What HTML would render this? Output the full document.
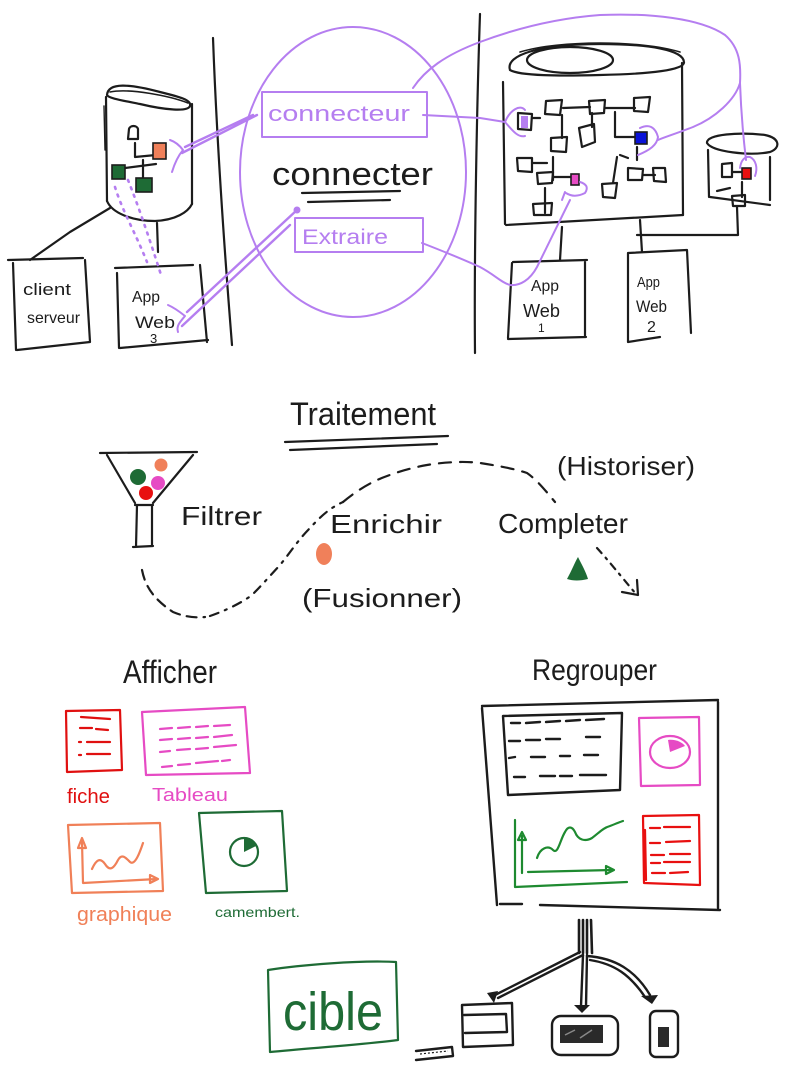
<!DOCTYPE html>
<html><head><meta charset="utf-8"><style>
html,body{margin:0;padding:0;background:#fff;}
svg{display:block;}
text{font-family:"Liberation Sans",sans-serif;}
</style></head><body>
<svg width="800" height="1070" viewBox="0 0 800 1070" xmlns="http://www.w3.org/2000/svg">
<rect width="800" height="1070" fill="#fff"/>

<!-- ============ TOP SECTION : black strokes ============ -->
<g fill="none" stroke="#1c1c1c" stroke-width="2.2" stroke-linecap="round" stroke-linejoin="round">
  <!-- separators -->
  <path d="M213,38 C216,120 222,220 232,345"/>
  <path d="M480,14 C477,100 474,250 475,353"/>

  <!-- left cylinder -->
  <path d="M107,95 C108,82 130,84 160,92 C180,97 192,100 190,106 C188,112 165,110 140,104 C120,100 108,98 107,95"/>
  <path d="M110,92 C130,88 170,96 188,103" stroke-width="1.6"/>
  <path d="M106,97 L107,201"/>
  <path d="M104,106 L105,150" stroke-width="1.4"/>
  <path d="M192,104 L192,204"/>
  <path d="M107,201 C112,213 132,221 155,221 C176,220 188,212 192,204"/>
  <!-- inner nodes -->
  <path d="M128,139 L129,129 C130,125 137,125 138,129 L138,139 Z"/>
  <path d="M135,143 L135,157 L156,155"/>
  <path d="M125,168 L156,164 M143,160 L143,178"/>
  <!-- to boxes -->
  <path d="M110,208 L70,232 L30,260"/>
  <path d="M157,223 L158,252"/>

  <!-- client serveur box -->
  <path d="M8,260 L83,258 M13,263 L16,350 M85,260 L90,342 M17,350 L90,342"/>
  <!-- App web 3 box -->
  <path d="M115,268 L193,265 M117,273 L119,348 M200,265 L207,342 M120,348 L208,340"/>

  <!-- big cylinder -->
  <path d="M510,70 C505,55 540,44 600,44 C650,44 683,50 684,62 C685,70 650,74 600,75 C560,76 520,76 510,70"/>
  <ellipse cx="570" cy="60" rx="43" ry="13"/>
  <path d="M520,52 C560,40 640,40 680,52" stroke-width="1.6"/>
  <path d="M503,82 L505,224"/>
  <path d="M682,63 L683,215"/>
  <path d="M506,225 L683,215"/>
  <!-- interior nodes -->
  <path d="M518,113 L532,114 L531,130 L518,129 Z"/>
  <path d="M532,118 L540,118"/>
  <path d="M546,101 L562,100 L560,115 L545,114 Z"/>
  <path d="M563,108 L590,107"/>
  <path d="M589,101 L605,100 L604,113 L590,114 Z"/>
  <path d="M605,108 L635,108"/>
  <path d="M634,98 L650,97 L648,112 L634,111 Z"/>
  <path d="M562,115 L562,138"/>
  <path d="M551,138 L567,137 L566,152 L551,151 Z"/>
  <path d="M592,113 L592,127"/>
  <path d="M579,128 L594,124 L595,142 L582,147 Z"/>
  <path d="M615,112 L615,137 L634,137"/>
  <path d="M637,147 L637,160"/>
  <path d="M620,155 L628,158 M617,157 L613,183"/>
  <path d="M628,168 L643,169 L642,180 L628,180 Z"/>
  <path d="M643,175 L655,175"/>
  <path d="M653,168 L665,168 L666,182 L654,181 Z"/>
  <path d="M602,184 L617,183 L615,198 L603,197 Z"/>
  <path d="M517,158 L532,158 L532,172 L518,171 Z"/>
  <path d="M532,163 L547,163"/>
  <path d="M553,157 L553,180"/>
  <path d="M537,173 L553,172 L552,183 L538,184 Z"/>
  <path d="M553,177 L572,177"/>
  <path d="M545,188 L545,213"/>
  <path d="M533,204 L552,203 L551,215 L534,215 Z"/>
  <!-- small cylinder -->
  <path d="M707,143 C706,134 740,132 765,135 C780,138 781,148 770,152 C750,156 712,152 707,143"/>
  <path d="M708,150 L709,197 M770,157 L770,200 M710,197 L770,205"/>
  <path d="M722,164 L732,163 L732,177 L722,177 Z"/>
  <path d="M732,172 L742,172"/>
  <path d="M717,191 L730,188 M742,182 L742,197"/>
  <path d="M732,196 L745,195 L745,206 L733,206 Z"/>
  <!-- connectors to app web 1 / 2 -->
  <path d="M562,227 L560,260"/>
  <path d="M640,220 L642,252 M637,235 L738,235 L737,207"/>
  <!-- App Web 1 box -->
  <path d="M513,262 L587,260 M512,263 L508,338 M585,262 L585,337 M508,339 L586,337"/>
  <!-- App Web 2 box -->
  <path d="M628,253 L687,250 M628,253 L628,342 M687,250 L691,333 M628,342 L660,337"/>
  <!-- connecter underline -->
  <path d="M302,193 L400,191 M308,202 L390,200"/>
</g>

<!-- fills top -->
<rect x="153" y="143" width="13" height="16" fill="#f0805a" stroke="#1c1c1c" stroke-width="1.6"/>
<rect x="112" y="165" width="13" height="14" fill="#1e6b35" stroke="#1c1c1c" stroke-width="1.6"/>
<rect x="136" y="178" width="16" height="14" fill="#1e6b35" stroke="#1c1c1c" stroke-width="1.6"/>
<rect x="521" y="116" width="7" height="12" fill="#b57ef0"/>
<rect x="635" y="132" width="12" height="12" fill="#0a12d8" stroke="#1c1c1c" stroke-width="1.6"/>
<rect x="571" y="174" width="8" height="11" fill="#e64bc4" stroke="#1c1c1c" stroke-width="1.6"/>
<rect x="742" y="168" width="9" height="11" fill="#e81010" stroke="#1c1c1c" stroke-width="1.6"/>

<!-- purple strokes -->
<g fill="none" stroke="#b57ef0" stroke-width="2" stroke-linecap="round" stroke-linejoin="round">
  <ellipse cx="353" cy="172" rx="113" ry="145"/>
  <rect x="262" y="92" width="165" height="45"/>
  <rect x="295" y="218" width="128" height="34"/>
  <!-- bracket near orange + line -->
  <path d="M170,140 C176,142 180,146 183,150 C178,156 175,162 172,172"/>
  <path d="M182,153 L257,115 M185,147 L253,115" stroke-width="2.4"/>
  <!-- bracket near app web 3 + line -->
  <path d="M168,305 C175,308 180,312 185,316 C180,322 176,326 178,332"/>
  <path d="M187,312 L297,210 M182,326 L290,225" stroke-width="2.4"/>
  <circle cx="297" cy="210" r="2.5" fill="#b57ef0"/>
  <!-- dotted lines -->
  <path d="M115,187 C122,210 135,232 147,262" stroke-dasharray="2 6" stroke-width="2.6"/>
  <path d="M128,180 C138,205 150,240 162,278" stroke-dasharray="2 6" stroke-width="2.6"/>
  <!-- connecteur to big cylinder -->
  <path d="M423,115 L480,118 L505,122"/>
  <path d="M505,122 C510,110 520,104 525,110 M505,122 C512,130 518,138 525,136"/>
  <!-- long curve top -->
  <path d="M413,88 C425,70 445,55 480,42 C520,27 560,18 600,15 C650,13 700,18 725,35 C740,48 741,65 740,83 C741,110 743,135 746,160"/>
  <path d="M740,83 C735,100 715,118 693,127 C675,134 665,137 658,140"/>
  <!-- bracket blue -->
  <path d="M640,128 C648,124 655,126 658,137 C657,145 650,150 638,155"/>
  <!-- bracket red -->
  <path d="M740,168 C741,160 745,156 750,157 C756,160 758,168 755,176"/>
  <!-- extraire to app web 1 then up to pink -->
  <path d="M422,243 C440,250 460,258 480,267 C495,275 502,283 510,285 C520,286 530,280 537,267 C548,245 560,220 570,200"/>
  <path d="M580,182 C586,184 589,187 585,193 C579,196 572,197 566,193 M565,192 L562,200"/>
</g>

<!-- text top -->
<g fill="#1c1c1c">
  <text x="23" y="295" font-size="17" textLength="48" lengthAdjust="spacingAndGlyphs">client</text>
  <text x="27" y="323" font-size="16" textLength="53" lengthAdjust="spacingAndGlyphs">serveur</text>
  <text x="132" y="302" font-size="16" textLength="28" lengthAdjust="spacingAndGlyphs">App</text>
  <text x="135" y="328" font-size="17" textLength="40" lengthAdjust="spacingAndGlyphs">Web</text>
  <text x="150" y="343" font-size="13">3</text>
  <text x="272" y="185" font-size="32" textLength="161" lengthAdjust="spacingAndGlyphs">connecter</text>
  <text x="531" y="291" font-size="16" textLength="28" lengthAdjust="spacingAndGlyphs">App</text>
  <text x="523" y="317" font-size="18" textLength="37" lengthAdjust="spacingAndGlyphs">Web</text>
  <text x="538" y="332" font-size="12">1</text>
  <text x="637" y="287" font-size="15" textLength="23" lengthAdjust="spacingAndGlyphs">App</text>
  <text x="636" y="312" font-size="17" textLength="31" lengthAdjust="spacingAndGlyphs">Web</text>
  <text x="647" y="332" font-size="16">2</text>
</g>
<g fill="#b57ef0">
  <text x="268" y="121" font-size="22" textLength="142" lengthAdjust="spacingAndGlyphs">connecteur</text>
  <text x="302" y="244" font-size="21" textLength="86" lengthAdjust="spacingAndGlyphs">Extraire</text>
</g>

<!-- ============ MIDDLE SECTION ============ -->
<g fill="none" stroke="#1c1c1c" stroke-width="2.2" stroke-linecap="round" stroke-linejoin="round">
  <path d="M285,442 L448,436 M290,450 L437,444"/>
  <!-- funnel -->
  <path d="M100,453 L197,452"/>
  <path d="M107,455 L135,503 M193,455 L153,503"/>
  <path d="M135,505 L153,505 M137,505 L136,547 M152,505 L152,545 M133,547 L153,546"/>
  <!-- dashed flow -->
  <path d="M142,570 C145,585 152,598 173,612 C185,617 195,618 205,617" stroke-dasharray="10 7"/>
  <path d="M210,616 C222,612 240,604 252,595 C262,585 268,578 280,565 C290,553 298,540 310,528 C322,515 330,508 343,502" stroke-dasharray="9 7 2 7"/>
  <path d="M343,502 C355,492 365,486 375,481 C390,474 410,468 427,465 C445,462 465,461 480,463 C500,466 515,469 527,473 C537,480 545,490 555,502" stroke-dasharray="12 9"/>
  <path d="M597,548 C608,560 620,575 636,594" stroke-dasharray="7 6 2 6"/>
  <path d="M622,592 L638,595 L637,580"/>
</g>
<circle cx="138" cy="477" r="8" fill="#1e6b35"/>
<circle cx="161" cy="465" r="6.5" fill="#f0805a"/>
<circle cx="158" cy="483" r="7" fill="#e64bc4"/>
<circle cx="146" cy="493" r="7" fill="#e81010"/>
<ellipse cx="324" cy="554" rx="8" ry="11" fill="#f0805a"/>
<path d="M567,579 C572,570 575,562 578,557 C582,565 586,572 588,579 C580,581 573,581 567,579 Z" fill="#1e6b35"/>

<g fill="#1c1c1c">
  <text x="290" y="425" font-size="32" textLength="146" lengthAdjust="spacingAndGlyphs">Traitement</text>
  <text x="181" y="525" font-size="26" textLength="81" lengthAdjust="spacingAndGlyphs">Filtrer</text>
  <text x="330" y="533" font-size="26" textLength="112" lengthAdjust="spacingAndGlyphs">Enrichir</text>
  <text x="498" y="533" font-size="28" textLength="130" lengthAdjust="spacingAndGlyphs">Completer</text>
  <text x="557" y="475" font-size="26" textLength="138" lengthAdjust="spacingAndGlyphs">(Historiser)</text>
  <text x="302" y="607" font-size="26" textLength="160" lengthAdjust="spacingAndGlyphs">(Fusionner)</text>
  <text x="123" y="683" font-size="32" textLength="94" lengthAdjust="spacingAndGlyphs">Afficher</text>
  <text x="532" y="680" font-size="30" textLength="125" lengthAdjust="spacingAndGlyphs">Regrouper</text>
</g>

<!-- ============ AFFICHER ============ -->
<g fill="none" stroke-width="2.2" stroke-linecap="round" stroke-linejoin="round">
  <!-- fiche -->
  <g stroke="#e01010">
    <path d="M66,711 L120,710 L122,770 L67,772 Z"/>
    <path d="M81,717 L110,719 M80,728 L92,728 M96,729 L108,730 M79,742 L81,742 M87,742 L110,742 M79,755 L81,755 M87,754 L110,754"/>
  </g>
  <!-- tableau -->
  <g stroke="#e64bc4">
    <path d="M142,712 L245,707 L250,773 L146,775 Z"/>
    <path d="M160,729 L172,728 M178,728 L190,727 M196,727 L208,726 M214,726 L230,725"/>
    <path d="M160,740 L172,739 M178,739 L190,738 M196,738 L208,737 M214,737 L232,735"/>
    <path d="M160,752 L170,751 M177,750 L190,749 M196,749 L208,748 M214,747 L236,745"/>
    <path d="M162,767 L172,766 M178,765 L190,764 M196,763 L218,761 M222,761 L230,760"/>
  </g>
  <!-- graphique -->
  <g stroke="#f08058">
    <path d="M68,825 L160,823 L163,891 L72,893 Z"/>
    <path d="M82,842 L83,883 L157,879"/>
    <path d="M78,848 L82,838 L86,848 Z M150,875 L158,879 L150,883 Z"/>
    <path d="M92,869 C96,860 100,857 105,864 C110,872 114,868 118,860 C122,853 126,858 130,862 C135,866 140,852 143,843"/>
  </g>
  <!-- camembert -->
  <g stroke="#1e6b35">
    <path d="M199,813 L282,811 L287,891 L206,893 Z"/>
    <circle cx="244" cy="852" r="14"/>
  </g>
</g>
<path d="M244,852 L244,838 A14,14 0 0,1 256,846 Z" fill="#1e6b35"/>
<text x="67" y="803" font-size="20" fill="#e01010" textLength="43" lengthAdjust="spacingAndGlyphs">fiche</text>
<text x="152" y="801" font-size="18" fill="#e64bc4" textLength="76" lengthAdjust="spacingAndGlyphs">Tableau</text>
<text x="77" y="921" font-size="20" fill="#f08058" textLength="95" lengthAdjust="spacingAndGlyphs">graphique</text>
<text x="215" y="917" font-size="14" fill="#1e6b35" textLength="85" lengthAdjust="spacingAndGlyphs">camembert.</text>

<!-- ============ REGROUPER ============ -->
<g fill="none" stroke-width="2.2" stroke-linecap="round" stroke-linejoin="round">
  <g stroke="#1c1c1c" stroke-width="2.4">
    <path d="M482,706 L718,700 M482,708 L497,905 M718,702 L718,908 M500,904 L522,904 M540,905 L720,910"/>
    <path d="M503,716 L622,713 L620,790 L508,795 Z"/>
    <path d="M511,723 L520,723 M526,723 L540,722 M546,722 L560,721 M566,721 L580,720 M586,720 L604,719"/>
    <path d="M509,741 L520,741 M526,740 L540,740 M546,739 L560,739 M586,737 L600,737"/>
    <path d="M509,758 L515,757 M531,757 L545,757 M560,756 L570,756 M584,755 L598,755"/>
    <path d="M514,777 L525,777 M540,776 L555,776 M560,776 L572,776 M580,775 L606,775"/>
  </g>
  <g stroke="#e64bc4">
    <path d="M639,718 L699,717 L700,785 L641,786 Z"/>
    <ellipse cx="670" cy="752" rx="20" ry="16"/>
  </g>
  <g stroke="#1e8a30">
    <path d="M515,820 L515,887 L627,882"/>
    <path d="M522,873 L522,836"/>
    <path d="M518,840 L522,832 L526,840 Z"/>
    <path d="M528,872 L612,870"/>
    <path d="M606,866 L614,870 L606,874 Z"/>
    <path d="M537,858 C540,848 548,845 553,850 C558,855 560,840 565,832 C568,826 572,826 575,832 C578,840 585,842 592,838 C600,832 603,828 610,826 C615,824 620,822 623,821"/>
  </g>
  <g stroke="#e81010">
    <path d="M643,816 L699,815 L700,885 L644,883 Z M645,830 L646,880"/>
    <path d="M650,828 L660,828 M664,827 L690,827 M650,843 L660,843 M666,842 L690,841 M651,855 L664,855 M670,854 L690,854 M651,863 L660,863 M664,862 L690,862 M652,873 L665,873 M670,873 L688,872"/>
  </g>
</g>
<path d="M670,752 L668,740 C675,739 682,742 685,746 Z" fill="#e64bc4"/>

<!-- ============ BOTTOM : devices ============ -->
<g fill="none" stroke="#1c1c1c" stroke-width="2.4" stroke-linecap="round" stroke-linejoin="round">
  <path d="M579,920 L579,953 M583,920 L583,953 M587,920 L587,953 M591,920 L592,953" stroke-width="2.6"/>
  <path d="M580,952 L495,995 M583,955 L498,998"/>
  <path d="M583,955 L581,1006 M587,955 L586,1006"/>
  <path d="M587,956 C615,958 635,970 650,995 M590,960 C615,964 630,975 645,997"/>
  <path d="M462,1005 L512,1003 L513,1045 L463,1047 Z"/>
  <path d="M464,1015 L506,1014 L507,1032 L465,1033"/>
  <path d="M416,1051 L452,1047 L453,1056 L416,1060"/>
  <rect x="552" y="1016" width="66" height="39" rx="9"/>
  <rect x="650" y="1011" width="28" height="46" rx="6"/>
</g>
<path d="M487,993 L498,991 L494,1003 Z" fill="#1c1c1c"/>
<path d="M574,1005 L590,1005 L582,1013 Z" fill="#1c1c1c"/>
<path d="M641,996 L658,995 L652,1004 Z" fill="#1c1c1c"/>
<rect x="560" y="1025" width="43" height="18" fill="#2a2a2a"/>
<path d="M565,1035 L575,1030 M580,1038 L592,1030" stroke="#888" stroke-width="1.5"/>
<rect x="658" y="1027" width="11" height="20" fill="#2a2a2a"/>
<path d="M420,1054 L448,1051" stroke="#1c1c1c" stroke-width="1.2" stroke-dasharray="2 2"/>

<!-- cible -->
<path d="M268,970 C300,965 360,960 396,962 L398,1040 C360,1045 310,1048 270,1052 Z" fill="none" stroke="#1e6b35" stroke-width="2.2" stroke-linejoin="round"/>
<text x="283" y="1030" font-size="54" fill="#1e6b35" textLength="100" lengthAdjust="spacingAndGlyphs">cible</text>
</svg>
</body></html>
